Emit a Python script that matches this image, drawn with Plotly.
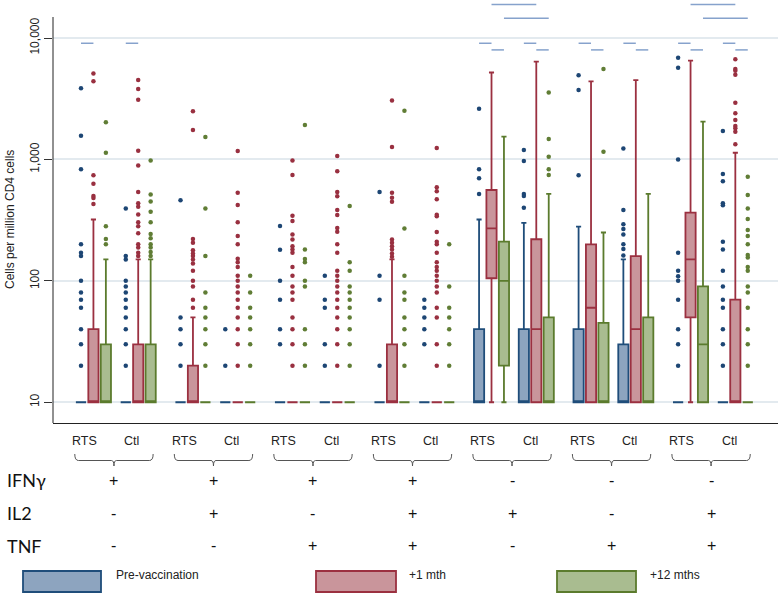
import plotly.graph_objects as go

# 7 cytokine combinations, each with RTS and Ctl arms -> 14 boxes per time point
groups = 7
arms = ["RTS", "Ctl"]
times = ["Pre-vaccination", "+1 mth", "+12 mths"]

ifng = ["+", "+", "+", "+", "-", "-", "-"]
il2 = ["-", "+", "-", "+", "+", "-", "+"]
tnf = ["-", "-", "+", "+", "-", "+", "+"]

# order: g1 RTS, g1 Ctl, g2 RTS, g2 Ctl, ...
pre_q1 = [10] * 14
pre_med = [10] * 14
pre_q3 = [10, 10, 10, 10, 10, 10, 10, 10, 40, 40, 40, 30, 10, 10]
pre_lo = [10] * 14
pre_hi = [10, 10, 10, 10, 10, 10, 10, 10, 320, 300, 280, 150, 10, 10]
pre_out = [
    [3850, 1570, 830, 200, 170, 160, 100, 80, 70, 60, 40, 30, 20],
    [395, 160, 150, 100, 90, 80, 70, 60, 50, 40, 30, 20],
    [460, 50, 40, 30, 20],
    [40, 20],
    [283, 180, 100, 70, 40, 30],
    [110, 70, 60, 30, 20],
    [540, 110, 70, 20],
    [70, 60, 50, 40, 30],
    [2610, 830, 700, 520],
    [1195, 970, 520, 500, 400],
    [4930, 3730, 740],
    [1230, 383, 292, 267, 241, 200, 183, 162],
    [6890, 5700, 1000, 170, 121, 109, 100, 70, 40, 30, 20],
    [1714, 760, 660, 435, 420, 210, 181, 121, 90, 70, 60, 40, 30, 20],
]

m1_q1 = [10, 10, 10, 10, 10, 10, 10, 10, 105, 10, 10, 10, 50, 10]
m1_med = [10, 10, 10, 10, 10, 10, 10, 10, 270, 40, 60, 40, 150, 10]
m1_q3 = [40, 30, 20, 10, 10, 10, 30, 10, 560, 220, 200, 160, 365, 70]
m1_lo = [10] * 14
m1_hi = [320, 150, 50, 10, 10, 10, 150, 10, 5200, 6400, 4400, 4500, 6500, 1135]
m1_out = [
    [5100, 4400, 740, 630, 500, 480, 430],
    [4500, 3800, 3100, 1180, 890, 540, 435, 407, 352, 303, 282, 246, 200, 188, 170, 160],
    [2490, 1745, 221, 206, 179, 168, 160, 150, 139, 121, 100, 90, 70, 60],
    [1173, 532, 421, 303, 234, 200, 152, 142, 130, 110, 100, 90, 80, 70, 60, 50, 40, 30, 20],
    [981, 743, 343, 311, 241, 219, 193, 181, 170, 130, 110, 90, 80, 70, 50, 40, 30, 20],
    [1066, 798, 538, 497, 383, 348, 272, 254, 200, 170, 121, 110, 100, 90, 80, 70, 60, 50, 40, 30, 20],
    [3050, 1264, 532, 483, 448, 219, 206, 193, 181, 168, 158],
    [1242, 589, 546, 469, 350, 341, 252, 210, 200, 170, 142, 130, 121, 110, 100, 90, 80, 60, 50, 30, 20],
    [],
    [],
    [],
    [],
    [],
    [6680, 5560, 5380, 4970, 2930, 2400, 2110, 1885, 1803, 1693, 1331],
]

m12_q1 = [10, 10, 10, 10, 10, 10, 10, 10, 20, 10, 10, 10, 10, 10]
m12_med = [10, 10, 10, 10, 10, 10, 10, 10, 100, 10, 10, 10, 30, 10]
m12_q3 = [30, 30, 10, 10, 10, 10, 10, 10, 210, 50, 45, 50, 90, 10]
m12_lo = [10] * 14
m12_hi = [150, 150, 10, 10, 10, 10, 10, 10, 1540, 520, 250, 520, 2050, 10]
m12_out = [
    [2020, 1135, 282, 221, 200],
    [981, 515, 451, 371, 303, 243, 224, 200, 188, 173, 160],
    [1530, 395, 160, 80, 60, 50, 40, 30, 20],
    [110, 80, 60, 50, 40, 30, 20],
    [1923, 181, 151, 142, 100, 90, 40, 30, 20],
    [413, 142, 121, 90, 80, 70, 60, 50, 40, 30, 20],
    [2520, 270, 110, 80, 70, 50, 40, 30, 20],
    [200, 90, 60, 50, 40, 30, 20],
    [],
    [3550, 1472, 1052, 829, 743],
    [5560, 1157],
    [],
    [],
    [720, 509, 395, 323, 262, 234, 200, 163, 156, 130, 121, 90, 80, 60, 40, 30, 20],
]

# significance bars: within arm (time t -> t+1) and between arms (same time)
within_group = [0, 0, 4, 4, 4, 4, 5, 5, 5, 5, 6, 6, 6, 6]
within_arm = [0, 1, 0, 0, 1, 1, 0, 0, 1, 1, 0, 0, 1, 1]
within_time = [0, 0, 0, 1, 0, 1, 0, 1, 0, 1, 0, 1, 0, 1]
within_level = [9050, 9050, 9050, 7980, 9050, 7980, 9050, 7980, 9050, 7980, 9050, 7980, 9050, 7980]
between_group = [4, 4, 6, 6]
between_time = [1, 2, 1, 2]
between_level = [18850, 14550, 18850, 14550]

line_cols = ["#1f4d7a", "#9b3040", "#5b7b2d"]
fill_cols = ["#8da4bf", "#c9959b", "#a9bc90"]
dot_cols = ["#1d4674", "#993040", "#607d35"]


def pos(g, a, t):
    return 8 * g + 3.6 * a + t


# plot area in pixels: x 53..778, y 0..423
def py(px):
    return (423 - px) / 423


def px_x(px):
    return (px - 53) / 725


stats = [
    (pre_q1, pre_med, pre_q3, pre_lo, pre_hi, pre_out),
    (m1_q1, m1_med, m1_q3, m1_lo, m1_hi, m1_out),
    (m12_q1, m12_med, m12_q3, m12_lo, m12_hi, m12_out),
]

fig = go.Figure()

for t, (q1, med, q3, lo, hi, out) in enumerate(stats):
    xs = [pos(g, a, t) for g in range(groups) for a in range(2)]
    fig.add_trace(go.Box(
        x=xs, q1=q1, median=med, q3=q3, lowerfence=lo, upperfence=hi,
        width=0.82, whiskerwidth=0.5, boxpoints=False,
        line=dict(color=line_cols[t], width=1.8),
        fillcolor=fill_cols[t], name=times[t], showlegend=False,
    ))
    ox, oy = [], []
    for i, vals in enumerate(out):
        for v in vals:
            ox.append(xs[i])
            oy.append(v)
    fig.add_trace(go.Scatter(
        x=ox, y=oy, mode="markers", showlegend=False,
        marker=dict(color=dot_cols[t], size=4.5),
    ))

sx, sy = [], []
for g, a, t, lv in zip(within_group, within_arm, within_time, within_level):
    sx += [pos(g, a, t), pos(g, a, t + 1), None]
    sy += [lv, lv, None]
for g, t, lv in zip(between_group, between_time, between_level):
    sx += [pos(g, 0, t), pos(g, 1, t), None]
    sy += [lv, lv, None]
fig.add_trace(go.Scatter(x=sx, y=sy, mode="lines", showlegend=False,
                         line=dict(color="#86a2cc", width=1.5)))

shapes = []
annotations = []

# y axis line (stops below the top of the plot area)
shapes.append(dict(type="line", xref="paper", yref="paper", x0=0, x1=0,
                   y0=0, y1=py(17), line=dict(color="#222", width=1)))

# braces, arm labels and cytokine signs
for g in range(groups):
    x0, x1, xc = 8 * g - 0.5, 8 * g + 5.8, 8 * g + 2.65
    path = (f"M {x0},{py(454)} Q {x0},{py(460.5)} {x0 + 0.3},{py(460.5)} "
            f"L {xc - 0.2},{py(460.5)} Q {xc},{py(460.5)} {xc},{py(466)} "
            f"Q {xc},{py(460.5)} {xc + 0.2},{py(460.5)} "
            f"L {x1 - 0.3},{py(460.5)} Q {x1},{py(460.5)} {x1},{py(454)}")
    shapes.append(dict(type="path", xref="x", yref="paper", path=path,
                       line=dict(color="#555", width=1)))
    annotations.append(dict(x=8 * g + 0.3, y=py(441), xref="x", yref="paper",
                            text=arms[0], showarrow=False, yanchor="middle",
                            font=dict(size=12.5, color="#222", family="Liberation Sans")))
    annotations.append(dict(x=8 * g + 4.1, y=py(441), xref="x", yref="paper",
                            text=arms[1], showarrow=False, yanchor="middle",
                            font=dict(size=12.5, color="#222", family="Liberation Sans")))
    for row, signs in zip([480, 513, 546], [ifng, il2, tnf]):
        annotations.append(dict(x=xc, y=py(row), xref="x", yref="paper",
                                text=signs[g], showarrow=False, yanchor="middle",
                                font=dict(size=16, color="#111", family="Liberation Sans")))

for row, label in zip([480, 513, 546], ["IFNγ", "IL2", "TNF"]):
    annotations.append(dict(x=px_x(5), y=py(row), xref="paper", yref="paper",
                            text=label, showarrow=False, xanchor="left", yanchor="middle",
                            font=dict(size=18, color="#111", family="Lato")))

# legend boxes
for t, (lx0, lx1, tx) in enumerate([(23, 101, 114), (316, 396, 407), (557, 636, 648)]):
    shapes.append(dict(type="rect", xref="paper", yref="paper",
                       x0=px_x(lx0), x1=px_x(lx1), y0=py(571), y1=py(592),
                       fillcolor=fill_cols[t], line=dict(color=line_cols[t], width=1.8)))
    annotations.append(dict(x=px_x(tx), y=py(575), xref="paper", yref="paper",
                            text=times[t], showarrow=False, xanchor="left", yanchor="middle",
                            font=dict(size=12, color="#222", family="Liberation Sans")))

annotations.append(dict(x=px_x(10), y=py(220), xref="paper", yref="paper",
                        text="Cells per million CD4 cells", showarrow=False,
                        xanchor="center", yanchor="middle", textangle=-90,
                        font=dict(size=12, color="#222", family="Liberation Sans")))

fig.update_layout(
    width=780, height=597,
    margin=dict(l=53, r=2, t=0, b=174),
    plot_bgcolor="white", paper_bgcolor="white",
    boxmode="overlay",
    shapes=shapes, annotations=annotations,
    xaxis=dict(range=[-2.25, 56.03], showgrid=False, zeroline=False,
               showticklabels=False, ticks="", showline=True,
               linecolor="#222", linewidth=1),
    yaxis=dict(type="log", range=[0.829, 4.313], showgrid=True,
               gridcolor="#e3eaef", gridwidth=1.5, zeroline=False,
               showline=False, ticks="outside", ticklen=8, tickcolor="#333",
               tickvals=[10, 100, 1000, 10000],
               ticktext=["10", "100", "1,000", "10,000"], tickangle=-90,
               tickfont=dict(size=12, color="#222", family="Liberation Sans")),
)

# the page body has a default 8px margin; drop it so the figure fills the window
fig.write_html("out.html", config={"displayModeBar": False},
               post_script="document.body.style.margin='0px';")
